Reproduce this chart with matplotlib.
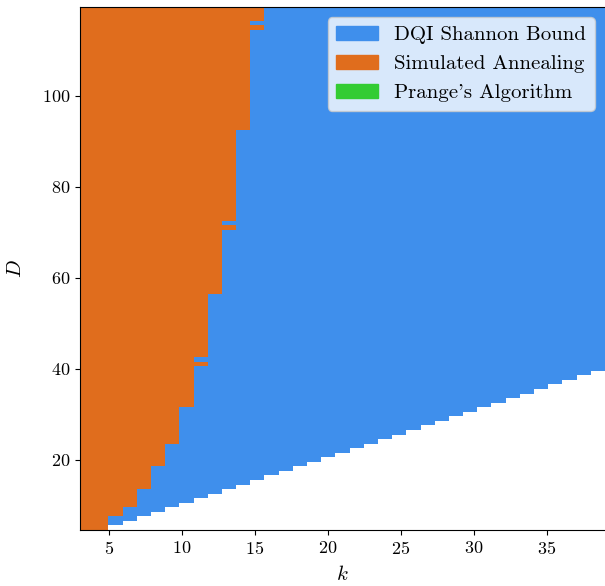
import numpy as np
import matplotlib.pyplot as plt
from matplotlib.colors import ListedColormap
from matplotlib.patches import Patch

plt.rcParams['font.family'] = 'serif'
plt.rcParams['font.serif'] = ['cmr10']
plt.rcParams['mathtext.fontset'] = 'cm'
plt.rcParams['axes.formatter.use_mathtext'] = True

# k columns and D rows of the grid
k_vals = np.arange(3, 40)
D_vals = np.arange(5, 120)

# smallest D that is drawn for each k (white below)
d_low = [4, 5, 6, 7, 8, 9, 10, 11, 12, 13, 14, 15, 16, 17, 18, 19, 20, 21, 22,
         23, 24, 25, 26, 27, 28, 29, 30, 31, 32, 33, 34, 35, 36, 37, 38, 39, 40]

# simulated annealing wins for k <= sa_k_max, starting at row sa_from_D
sa_from_D = [5, 8, 10, 14, 19, 24, 32, 41, 42, 43, 57, 71, 72, 73, 93, 115, 116, 117]
sa_k_max = [4, 5, 6, 7, 8, 9, 10, 11, 10, 11, 12, 13, 12, 13, 14, 15, 14, 15]

labels = ['DQI Shannon Bound', 'Simulated Annealing', "Prange's Algorithm"]
colors = ['#3f8fec', '#e06d1d', '#33cc33']

# 0 = DQI, 1 = SA, 2 = Prange, masked = nothing
grid = np.zeros((len(D_vals), len(k_vals)))
for i, D in enumerate(D_vals):
    j = np.searchsorted(sa_from_D, D, side='right') - 1
    kmax = sa_k_max[j] if j >= 0 else 0
    for c, k in enumerate(k_vals):
        if D < d_low[c]:
            grid[i, c] = np.nan
        elif k <= kmax:
            grid[i, c] = 1
grid = np.ma.masked_invalid(grid)

fig = plt.figure(figsize=(6.05, 5.86), dpi=100)
ax = fig.add_axes([80 / 605, 56 / 586, 525 / 605, 523 / 586])

ax.imshow(grid, origin='lower', aspect='auto', interpolation='nearest',
          cmap=ListedColormap(colors), vmin=0, vmax=2,
          extent=[k_vals[0], k_vals[-1], D_vals[0] - 0.5, D_vals[-1] + 0.5])

ax.spines['right'].set_visible(False)
ax.set_xticks([5, 10, 15, 20, 25, 30, 35])
ax.set_yticks([20, 40, 60, 80, 100])
ax.tick_params(labelsize=13)
ax.set_xlabel('$k$', fontsize=15, labelpad=6)
ax.set_ylabel('$D$', fontsize=15, labelpad=12)

handles = [Patch(color=c, label=l) for c, l in zip(colors, labels)]
ax.legend(handles=handles, loc='upper right', fontsize=15, framealpha=0.8,
          borderaxespad=0.5)

fig.savefig('out.png', dpi=100)
